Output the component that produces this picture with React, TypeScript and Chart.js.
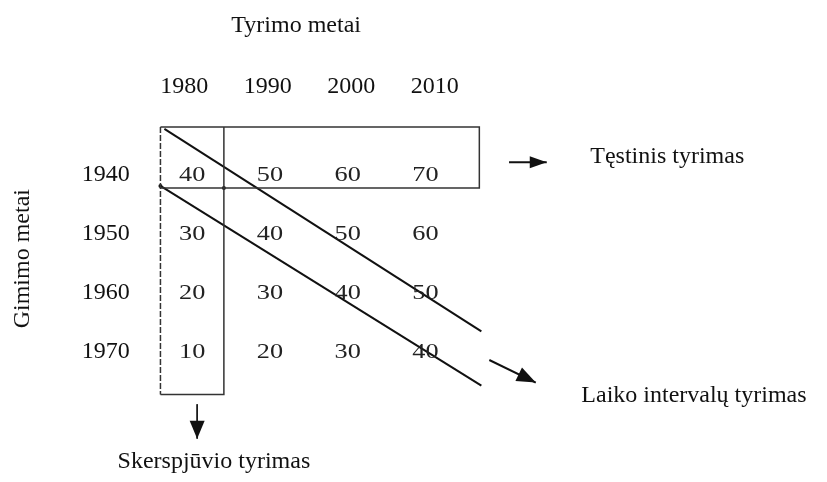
import React, { useEffect, useRef } from "react";
import { Chart, registerables } from "chart.js";

Chart.register(...registerables);

// ---- data ----
const topTitle = "Tyrimo metai";
const sideTitle = "Gimimo metai";
const studyYears = ["1980", "1990", "2000", "2010"];
const birthYears = ["1940", "1950", "1960", "1970"];
const ages1940 = [40, 50, 60, 70];
const ages1950 = [30, 40, 50, 60];
const ages1960 = [20, 30, 40, 50];
const ages1970 = [10, 20, 30, 40];
const ageRows = [ages1940, ages1950, ages1960, ages1970];
const longitudinalLabel = "Tęstinis tyrimas";
const timeLagLabel = "Laiko intervalų tyrimas";
const crossSectionLabel = "Skerspjūvio tyrimas";

// box / line geometry in cell units (x = column index, y = row index)
const boxLeft = -0.408;
const colBoxRight = 0.408;
const rowBoxRight = 3.694;
const boxTop = -0.783;
const rowBoxBottom = 0.25;
const colBoxBottom = 3.75;

const FONT = '"Liberation Serif", "Times New Roman", serif';
const INK = "#111";

const cellPoints = ageRows.flatMap((row, j) =>
  row.map((v, i) => ({ x: i, y: j, v }))
);

const lineDs = (data: { x: number; y: number }[], extra: any = {}) => ({
  type: "line",
  data,
  showLine: true,
  pointRadius: 0,
  borderColor: INK,
  borderWidth: 1.5,
  fill: false,
  tension: 0,
  ...extra,
});

const textPlugin = {
  id: "textLayer",
  afterDatasetsDraw(chart: any) {
    const { ctx } = chart;
    const x = chart.scales.x;
    const y = chart.scales.y;
    const xh = chart.scales.xh;
    ctx.save();
    ctx.fillStyle = INK;
    ctx.font = `24px ${FONT}`;
    ctx.textAlign = "center";
    ctx.textBaseline = "alphabetic";
    ctx.fillText(topTitle, x.getPixelForValue(1.338), y.getPixelForValue(-2.4));
    studyYears.forEach((s, i) =>
      ctx.fillText(s, xh.getPixelForValue(i), y.getPixelForValue(-1.35))
    );
    birthYears.forEach((b, j) =>
      ctx.fillText(b, x.getPixelForValue(-1.11), y.getPixelForValue(j) + 8)
    );
    // cells
    const meta = chart.getDatasetMeta(0);
    const ds = chart.data.datasets[0];
    ctx.font = `21px ${FONT}`;
    ctx.fillStyle = "#222";
    meta.data.forEach((pt: any, k: number) => {
      ctx.save();
      ctx.translate(pt.x, pt.y + 7.5);
      ctx.scale(1.25, 1);
      ctx.fillText(String(ds.data[k].v), 0, 0);
      ctx.restore();
    });
    ctx.fillStyle = INK;
    ctx.font = `24px ${FONT}`;
    ctx.textAlign = "left";
    ctx.fillText(longitudinalLabel, x.getPixelForValue(5.121), y.getPixelForValue(-0.167));
    ctx.fillText(timeLagLabel, x.getPixelForValue(5.006), y.getPixelForValue(3.883));
    ctx.textAlign = "center";
    ctx.fillText(crossSectionLabel, x.getPixelForValue(0.28), y.getPixelForValue(5.0));
    // rotated side title
    ctx.save();
    ctx.translate(x.getPixelForValue(-2.178), y.getPixelForValue(1.45));
    ctx.rotate(-Math.PI / 2);
    ctx.textBaseline = "middle";
    ctx.fillText(sideTitle, 0, 0);
    ctx.restore();

    // arrow heads
    chart.data.datasets.forEach((d: any, i: number) => {
      if (!d.arrowHead) return;
      const pts = chart.getDatasetMeta(i).data;
      const a = pts[pts.length - 2];
      const b = pts[pts.length - 1];
      const ang = Math.atan2(b.y - a.y, b.x - a.x);
      const L = d.arrowHead.length;
      const W = d.arrowHead.width / 2;
      const c = Math.cos(ang);
      const s = Math.sin(ang);
      const bx = b.x - L * c;
      const by = b.y - L * s;
      ctx.beginPath();
      ctx.moveTo(b.x, b.y);
      ctx.lineTo(bx - W * s, by + W * c);
      ctx.lineTo(bx + W * s, by - W * c);
      ctx.closePath();
      ctx.fillStyle = INK;
      ctx.fill();
    });
    ctx.restore();
  },
};

export default function App() {
  const ref = useRef<HTMLCanvasElement>(null);
  useEffect(() => {
    if (!ref.current) return;
    const chart = new Chart(ref.current, {
      type: "scatter",
      data: {
        datasets: [
          { data: cellPoints, pointRadius: 0, showLine: false } as any,
          // row (longitudinal) box: top, right, bottom
          lineDs([
            { x: boxLeft, y: boxTop },
            { x: rowBoxRight, y: boxTop },
            { x: rowBoxRight, y: rowBoxBottom },
            { x: boxLeft, y: rowBoxBottom },
          ], { borderColor: "#333" }),
          // column (cross-section) box: right, bottom
          lineDs([
            { x: colBoxRight, y: boxTop },
            { x: colBoxRight, y: colBoxBottom },
            { x: boxLeft, y: colBoxBottom },
          ], { borderColor: "#333" }),
          // shared left edge (scan-dashed)
          lineDs([
            { x: boxLeft, y: boxTop },
            { x: boxLeft, y: colBoxBottom },
          ], { borderColor: "#333", borderDash: [6, 2] }),
          // diagonals (time-lag)
          lineDs([
            { x: -0.357, y: -0.75 },
            { x: 3.72, y: 2.683 },
          ], { borderWidth: 2 }),
          lineDs([
            { x: -0.408, y: 0.217 },
            { x: 3.72, y: 3.6 },
          ], { borderWidth: 2 }),
          // arrows
          lineDs([
            { x: 4.076, y: -0.183 },
            { x: 4.561, y: -0.183 },
          ], { borderWidth: 2, arrowHead: { length: 17, width: 12 } }),
          lineDs([
            { x: 3.822, y: 3.167 },
            { x: 4.42, y: 3.55 },
          ], { borderWidth: 2, arrowHead: { length: 19, width: 15 } }),
          lineDs([
            { x: 0.064, y: 3.917 },
            { x: 0.064, y: 4.5 },
          ], { borderWidth: 1, arrowHead: { length: 18, width: 15 } }),
          // corner dots
          {
            data: [
              { x: colBoxRight, y: rowBoxBottom },
              { x: boxLeft, y: rowBoxBottom - 0.033 },
            ],
            pointRadius: 2,
            pointBackgroundColor: INK,
            pointBorderWidth: 0,
            showLine: false,
          } as any,
        ] as any,
      },
      options: {
        animation: false,
        responsive: false,
        maintainAspectRatio: false,
        layout: { padding: 0 },
        events: [],
        plugins: { legend: { display: false }, tooltip: { enabled: false } },
        scales: {
          x: { type: "linear", display: false, min: -2.4204, max: 8.1146 },
          xh: { type: "linear", axis: "x", position: "top", display: false, min: -2.159, max: 7.651 },
          y: { type: "linear", display: false, reverse: true, min: -2.8667, max: 5.1667 },
        },
      } as any,
      plugins: [textPlugin],
    });
    return () => chart.destroy();
  }, []);
  return (
    <div style={{ position: "absolute", left: 0, top: 0, width: 827, height: 482, background: "#fff" }}>
      <canvas ref={ref} width={827} height={482} />
    </div>
  );
}
